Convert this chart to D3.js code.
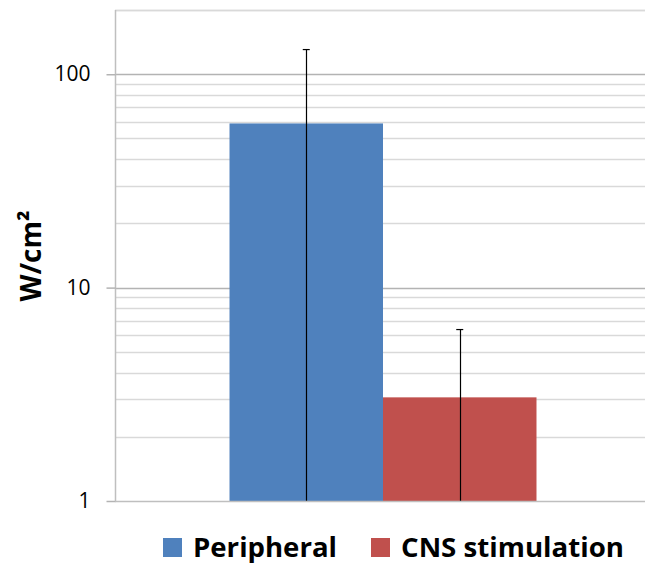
<!DOCTYPE html>
<html>
<head>
<meta charset="utf-8">
<script src="https://cdnjs.cloudflare.com/ajax/libs/d3/7.8.5/d3.min.js"></script>
<style>
  body { margin: 0; background: #fff; }
  svg { display: block; font-family: "Open Sans", "Liberation Sans", sans-serif; }
</style>
</head>
<body>
<div id="chart"></div>
<script>
var categories = ["Peripheral", "CNS stimulation"];
var values = [58.8, 3.06];
var errors = [71.7, 3.3];
var colors = ["#4f81bd", "#c0504d"];
var tickLabels = [1, 10, 100];

var width = 645, height = 565;
var margin = { top: 10, right: -6, bottom: 64, left: 115 };

var svg = d3.select("#chart").append("svg")
    .attr("width", width)
    .attr("height", height);

var y = d3.scaleLog()
    .domain([1, 200])
    .range([height - margin.bottom, margin.top]);

var x = d3.scaleBand()
    .domain(["group"])
    .range([margin.left, width - margin.right])
    .paddingInner(0)
    .paddingOuter(0.373);

var xs = d3.scaleBand()
    .domain(categories)
    .range([x("group"), x("group") + x.bandwidth()]);

// minor + major gridlines
var gridVals = [];
[1, 10, 100].forEach(function (d) {
    for (var k = 1; k <= 9; k++) {
        if (d * k <= 200 && d * k > 1) gridVals.push(d * k);
    }
});
gridVals.push(200);

svg.append("g")
    .selectAll("line")
    .data(gridVals)
    .enter()
    .append("line")
    .attr("x1", margin.left)
    .attr("x2", width)
    .attr("y1", d => Math.round(y(d)) + 0.5)
    .attr("y2", d => Math.round(y(d)) + 0.5)
    .style("stroke", d => (d === 10 || d === 100) ? "#b3b3b3" : "#d9d9d9")
    .style("stroke-width", 1.5);

// bars
svg.append("g")
    .selectAll("rect")
    .data(categories)
    .enter()
    .append("rect")
    .attr("x", d => xs(d))
    .attr("width", xs.bandwidth())
    .attr("y", (d, i) => y(values[i]))
    .attr("height", (d, i) => y(1) - y(values[i]))
    .style("fill", (d, i) => colors[i]);

// error bars (lower part clipped at axis)
var eb = svg.append("g")
    .selectAll("g")
    .data(categories)
    .enter()
    .append("g");

eb.append("line")
    .attr("x1", d => Math.round(xs(d) + xs.bandwidth() / 2) + 0.5)
    .attr("x2", d => Math.round(xs(d) + xs.bandwidth() / 2) + 0.5)
    .attr("y1", (d, i) => y(values[i] + errors[i]))
    .attr("y2", y(1))
    .style("stroke", "#000")
    .style("stroke-width", 1.2);

eb.append("line")
    .attr("x1", d => xs(d) + xs.bandwidth() / 2 - 3.5)
    .attr("x2", d => xs(d) + xs.bandwidth() / 2 + 3.5)
    .attr("y1", (d, i) => y(values[i] + errors[i]))
    .attr("y2", (d, i) => y(values[i] + errors[i]))
    .style("stroke", "#000")
    .style("stroke-width", 1.2);

// y axis
var yAxis = svg.append("g")
    .attr("transform", "translate(" + (margin.left + 0.5) + ",0)")
    .call(d3.axisLeft(y)
        .tickValues(tickLabels)
        .tickFormat(d3.format("d"))
        .tickSize(9)
        .tickPadding(16));

yAxis.select(".domain")
    .attr("d", "M0," + margin.top + "V" + y(1))
    .style("stroke", "#bfbfbf")
    .style("stroke-width", 1.5);
yAxis.selectAll(".tick line")
    .style("stroke", "#b3b3b3")
    .style("stroke-width", 1.5);
yAxis.selectAll(".tick text")
    .style("font-size", "21px")
    .style("fill", "#000")
    .style("font-family", "Open Sans, Liberation Sans, sans-serif");

// x axis baseline
svg.append("line")
    .attr("x1", margin.left)
    .attr("x2", width)
    .attr("y1", y(1) + 0.5)
    .attr("y2", y(1) + 0.5)
    .style("stroke", "#bfbfbf")
    .style("stroke-width", 1.5);

// y title
svg.append("text")
    .attr("transform", "translate(41,256) rotate(-90)")
    .attr("text-anchor", "middle")
    .style("font-size", "28px")
    .style("font-weight", "bold")
    .style("fill", "#000")
    .text("W/cm²");

// legend
var legendX = [163, 371];
var lg = svg.append("g")
    .selectAll("g")
    .data(categories)
    .enter()
    .append("g")
    .attr("transform", (d, i) => "translate(" + legendX[i] + ",538)");

lg.append("rect")
    .attr("width", 19)
    .attr("height", 19)
    .style("fill", (d, i) => colors[i]);

lg.append("text")
    .attr("x", 30)
    .attr("y", 19)
    .attr("textLength", (d, i) => [144, 223][i])
    .attr("lengthAdjust", "spacingAndGlyphs")
    .style("font-size", "26px")
    .style("font-weight", "bold")
    .style("fill", "#000")
    .text(d => d);
</script>
</body>
</html>
